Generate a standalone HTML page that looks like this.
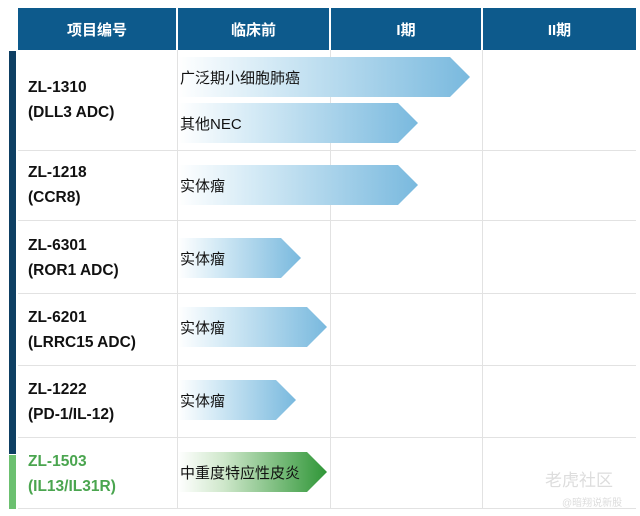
<!DOCTYPE html>
<html><head><meta charset="utf-8"><style>
body{margin:0;width:640px;height:516px;background:#fff;position:relative;overflow:hidden;font-family:"Liberation Sans","Noto Sans CJK SC",sans-serif}
.h{position:absolute;top:8px;height:42px;background:#0d5a8c;color:#fff;font-weight:bold;font-size:15px;display:flex;align-items:center;justify-content:center}
.vl{position:absolute;top:50px;height:459px;width:1px;background:#e2e2e2}
.hl{position:absolute;left:18px;width:618px;height:1px;background:#e2e2e2}
.name{position:absolute;left:28px;font-weight:bold;font-size:15.5px;line-height:25px;color:#111}
.arr{position:absolute;left:178px;height:40px;font-size:15px;color:#111;display:flex;align-items:center;padding-left:2px;box-sizing:border-box}
.b{background:linear-gradient(90deg,#fff 0%,#d6ebf6 30%,#79b9de 100%)}
.g{background:linear-gradient(90deg,#fff 0%,#d0e8cc 30%,#2f9637 100%)}
</style></head><body>
<div class="h" style="left:18px;width:158px">项目编号</div>
<div class="h" style="left:178px;width:151px">临床前</div>
<div class="h" style="left:331px;width:150px">I期</div>
<div class="h" style="left:483px;width:153px">II期</div>
<div style="position:absolute;left:9px;top:51px;width:7px;height:403px;background:#0e3f63"></div>
<div style="position:absolute;left:9px;top:455px;width:7px;height:54px;background:#6cc070"></div>
<div class="vl" style="left:177px"></div><div class="vl" style="left:330px"></div><div class="vl" style="left:482px"></div>
<div class="hl" style="top:150px"></div><div class="hl" style="top:220px"></div><div class="hl" style="top:293px"></div><div class="hl" style="top:365px"></div><div class="hl" style="top:437px"></div><div class="hl" style="top:508px"></div>
<div class="name" style="top:75px">ZL-1310<br>(DLL3 ADC)</div>
<div class="name" style="top:160px">ZL-1218<br>(CCR8)</div>
<div class="name" style="top:233px">ZL-6301<br>(ROR1 ADC)</div>
<div class="name" style="top:305px">ZL-6201<br>(LRRC15 ADC)</div>
<div class="name" style="top:377px">ZL-1222<br>(PD-1/IL-12)</div>
<div class="name" style="top:449px;color:#4aa54f">ZL-1503<br>(IL13/IL31R)</div>
<div class="arr b" style="top:57px;width:292px;clip-path:polygon(0 0,calc(100% - 20px) 0,100% 50%,calc(100% - 20px) 100%,0 100%)">广泛期小细胞肺癌</div>
<div class="arr b" style="top:103px;width:240px;clip-path:polygon(0 0,calc(100% - 20px) 0,100% 50%,calc(100% - 20px) 100%,0 100%)">其他NEC</div>
<div class="arr b" style="top:165px;width:240px;clip-path:polygon(0 0,calc(100% - 20px) 0,100% 50%,calc(100% - 20px) 100%,0 100%)">实体瘤</div>
<div class="arr b" style="top:238px;width:123px;clip-path:polygon(0 0,calc(100% - 20px) 0,100% 50%,calc(100% - 20px) 100%,0 100%)">实体瘤</div>
<div class="arr b" style="top:307px;width:149px;clip-path:polygon(0 0,calc(100% - 20px) 0,100% 50%,calc(100% - 20px) 100%,0 100%)">实体瘤</div>
<div class="arr b" style="top:380px;width:118px;clip-path:polygon(0 0,calc(100% - 20px) 0,100% 50%,calc(100% - 20px) 100%,0 100%)">实体瘤</div>
<div class="arr g" style="top:452px;width:149px;clip-path:polygon(0 0,calc(100% - 20px) 0,100% 50%,calc(100% - 20px) 100%,0 100%)">中重度特应性皮炎</div>
<div style="position:absolute;left:545px;top:466px;color:#ddd;font-size:17px">老虎社区</div>
<div style="position:absolute;left:562px;top:494px;color:#ddd;font-size:10px">@暗翔说新股</div>
</body></html>
